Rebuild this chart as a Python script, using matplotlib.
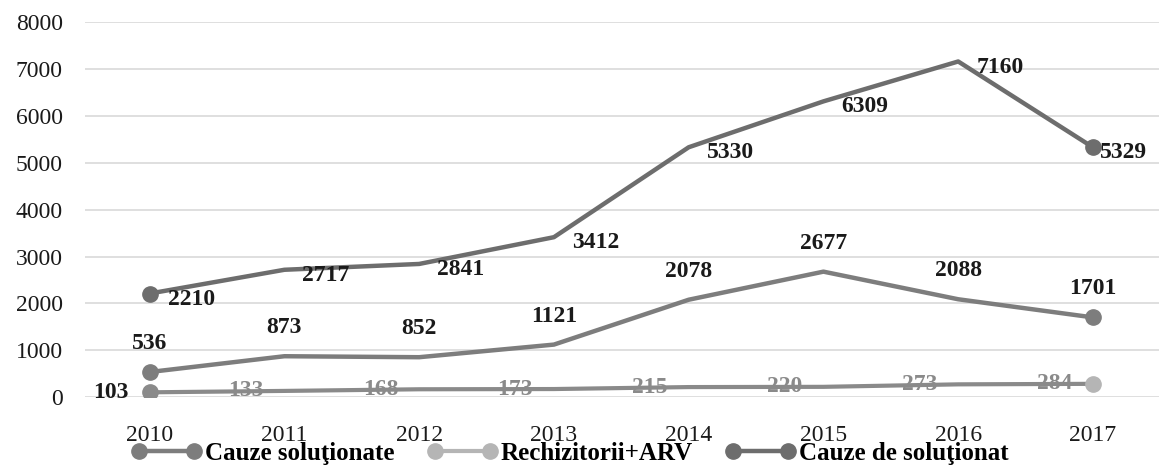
import matplotlib.pyplot as plt
from matplotlib.lines import Line2D

# ── Data ──────────────────────────────────────────────────────────────────────
years = ["2010", "2011", "2012", "2013", "2014", "2015", "2016", "2017"]
cauze_solutionate = [536, 873, 852, 1121, 2078, 2677, 2088, 1701]
rechizitorii_arv = [103, 133, 168, 173, 215, 220, 273, 284]
cauze_de_solutionat = [2210, 2717, 2841, 3412, 5330, 6309, 7160, 5329]

names = ["Cauze soluţionate", "Rechizitorii+ARV", "Cauze de soluţionat"]

SERIF = ["Liberation Serif", "DejaVu Serif"]
plt.rcParams["font.family"] = SERIF

fig = plt.figure(figsize=(11.59, 4.70), dpi=100)
ax = fig.add_axes([0.0733, 0.155, 0.9267, 0.798])

x = list(range(len(years)))

# ── Lines ─────────────────────────────────────────────────────────────────────
ax.plot(x, cauze_de_solutionat, color="#6d6d6d", lw=3.2, marker="o", ms=11,
        markevery=[0, -1], zorder=3)
ax.plot(x, cauze_solutionate, color="#7d7d7d", lw=3.2, marker="o", ms=11,
        markevery=[0, -1], zorder=3)
ax.plot(x, rechizitorii_arv, color="#8a8a8a", lw=3.0, marker="o", ms=11,
        markevery=[0], zorder=3)
ax.plot(x[-1:], rechizitorii_arv[-1:], color="#b5b5b5", lw=0, marker="o",
        ms=11, zorder=3)

# ── Data labels ───────────────────────────────────────────────────────────────
LBL = dict(fontsize=17, fontweight="bold")
for i, v in enumerate(cauze_de_solutionat):
    ax.annotate(str(v), (i, v), xytext=(13 if i < 7 else 5, -4),
                textcoords="offset points", ha="left", va="center",
                color="#1a1a1a", zorder=4, **LBL)

for i, v in enumerate(cauze_solutionate):
    ax.annotate(str(v), (i, v), xytext=(0, 13), textcoords="offset points",
                ha="center", va="bottom", color="#1a1a1a", zorder=4, **LBL)

for i, v in enumerate(rechizitorii_arv):
    ax.annotate(str(v), (i, v), xytext=(-15, 0), textcoords="offset points",
                ha="right", va="center",
                color="#1a1a1a" if i == 0 else "#8a8a8a", zorder=2, **LBL)

# ── Axes ──────────────────────────────────────────────────────────────────────
ax.set_xlim(-0.48, 7.49)
ax.set_ylim(0, 8000)
ax.set_yticks(range(0, 8001, 1000))
ax.set_xticks(x)
ax.set_xticklabels(years)
ax.tick_params(axis="both", length=0, labelsize=17, colors="#1a1a1a")
ax.tick_params(axis="y", pad=16)
ax.tick_params(axis="x", pad=20)
ax.grid(axis="y", color="#d9d9d9", lw=1.2)
ax.set_axisbelow(True)
for s in ax.spines.values():
    s.set_visible(False)

# ── Legend ────────────────────────────────────────────────────────────────────
handles = [
    Line2D([0], [0], color="#7d7d7d", lw=3.2, marker="o", ms=11),
    Line2D([0], [0], color="#b5b5b5", lw=3.0, marker="o", ms=11),
    Line2D([0], [0], color="#6d6d6d", lw=3.2, marker="o", ms=11),
]
fig.legend(handles, names, loc="center", bbox_to_anchor=(0.492, 0.036),
           ncol=3, frameon=False, handlelength=2.8, numpoints=2,
           columnspacing=1.3, handletextpad=0.15,
           prop={"family": SERIF, "size": 18, "weight": "bold"})

fig.savefig("out.png", dpi=100)
